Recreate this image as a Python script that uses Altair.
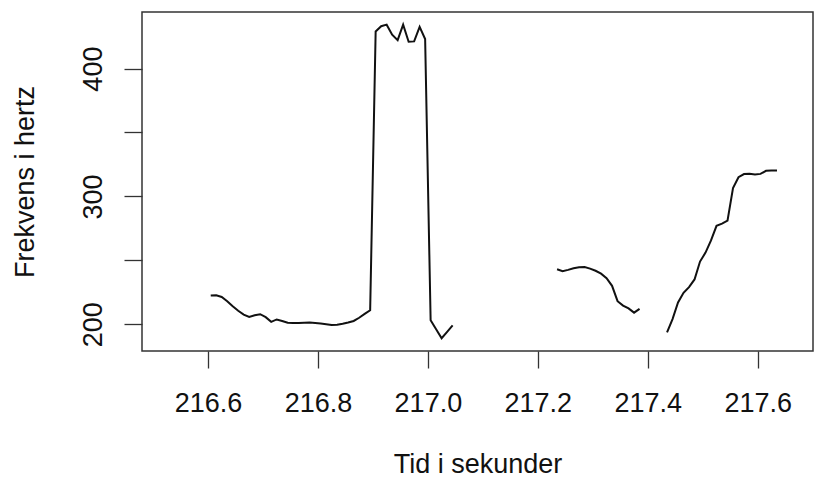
import altair as alt
import pandas as pd

# Segment 1 (216.605 - 217.045 s)
seg1_time = [216.605, 216.615, 216.625, 216.635, 216.645, 216.655, 216.665, 216.675, 216.685, 216.695,
             216.705, 216.715, 216.725, 216.735, 216.745, 216.755, 216.765, 216.775, 216.785, 216.795,
             216.805, 216.815, 216.825, 216.835, 216.845, 216.855, 216.865, 216.875, 216.885, 216.895,
             216.905, 216.915, 216.925, 216.935, 216.945, 216.955, 216.965, 216.975, 216.985, 216.995,
             217.005, 217.015, 217.025, 217.035, 217.045]
seg1_freq = [222.4, 222.6, 221.3, 218.0, 214.0, 210.5, 207.5, 205.7, 207.0, 207.8,
             205.5, 201.8, 203.7, 202.5, 201.1, 201.0, 201.0, 201.2, 201.3, 201.0,
             200.5, 200.0, 199.3, 199.5, 200.3, 201.3, 202.5, 205.0, 208.0, 210.9,
             429.0, 433.2, 434.4, 426.5, 422.3, 434.4, 421.0, 421.3, 432.6, 423.2,
             203.1, 196.0, 189.0, 194.0, 199.0]

# Segment 2 (217.235 - 217.385 s)
seg2_time = [217.235, 217.245, 217.255, 217.265, 217.275, 217.285, 217.295, 217.305,
             217.315, 217.325, 217.335, 217.345, 217.355, 217.365, 217.375, 217.385]
seg2_freq = [243.0, 241.5, 242.5, 243.8, 244.5, 244.7, 243.5, 241.8,
             239.5, 236.0, 230.0, 218.0, 214.5, 212.3, 209.0, 212.0]

# Segment 3 (217.435 - 217.635 s)
seg3_time = [217.435, 217.445, 217.455, 217.465, 217.475, 217.485, 217.495, 217.505,
             217.515, 217.525, 217.535, 217.545, 217.555, 217.565, 217.575, 217.585,
             217.595, 217.605, 217.615, 217.625, 217.635]
seg3_freq = [193.5, 204.0, 217.0, 224.5, 229.0, 235.0, 249.0, 256.0,
             265.5, 277.0, 278.7, 281.0, 306.5, 315.0, 317.5, 317.7,
             317.2, 317.6, 320.0, 320.3, 320.3]

x_ticks = [216.6, 216.8, 217.0, 217.2, 217.4, 217.6]
y_ticks = [200, 250, 300, 350, 400]

rows = []
for seg, (ts, fs) in enumerate([(seg1_time, seg1_freq), (seg2_time, seg2_freq), (seg3_time, seg3_freq)]):
    for i, (t, f) in enumerate(zip(ts, fs)):
        rows.append({"tid": t, "frekvens": f, "seg": seg, "i": i})
df = pd.DataFrame(rows)

FONT = "Liberation Sans"
FS = 27

chart = alt.Chart(df).mark_line(color="#111111", strokeWidth=2).encode(
    x=alt.X("tid:Q",
            scale=alt.Scale(domain=[216.48, 217.7005], nice=False, zero=False),
            axis=alt.Axis(values=x_ticks, format=".1f", title="Tid i sekunder",
                          grid=False, domain=False, tickSize=17, tickColor="#333333",
                          tickWidth=1.3, labelFontSize=FS, labelFont=FONT, labelColor="#111111",
                          labelPadding=22, labelFlush=False, labelOverlap=False,
                          titleFontSize=FS, titleFont=FONT, titleFontWeight="normal",
                          titleColor="#111111", titleY=121, titleBaseline="alphabetic")),
    y=alt.Y("frekvens:Q",
            scale=alt.Scale(domain=[179, 444.3], nice=False, zero=False),
            axis=alt.Axis(values=y_ticks, title="Frekvens i hertz",
                          labelExpr="datum.value % 100 == 0 ? datum.label : ''",
                          grid=False, domain=False, tickSize=18, tickColor="#333333",
                          tickWidth=1.3, labelFontSize=FS, labelFont=FONT, labelColor="#111111",
                          labelAngle=270, labelAlign="center", labelBaseline="alphabetic",
                          labelPadding=23, labelFlush=False, labelOverlap=False,
                          titleFontSize=FS, titleFont=FONT, titleFontWeight="normal",
                          titleColor="#111111", titleAngle=270, titleX=-109,
                          titleBaseline="alphabetic", titleAlign="center")),
    detail="seg:N",
    order="i:Q",
).properties(
    width=671,
    height=339,
    autosize=alt.AutoSizeParams(type="none"),
    padding={"left": 134, "top": 4, "right": 1, "bottom": 127},
).configure(
    background="white"
).configure_view(
    stroke="#333333", strokeWidth=1.5
)

chart.save("out.html", embed_options={"renderer": "svg", "actions": False})
